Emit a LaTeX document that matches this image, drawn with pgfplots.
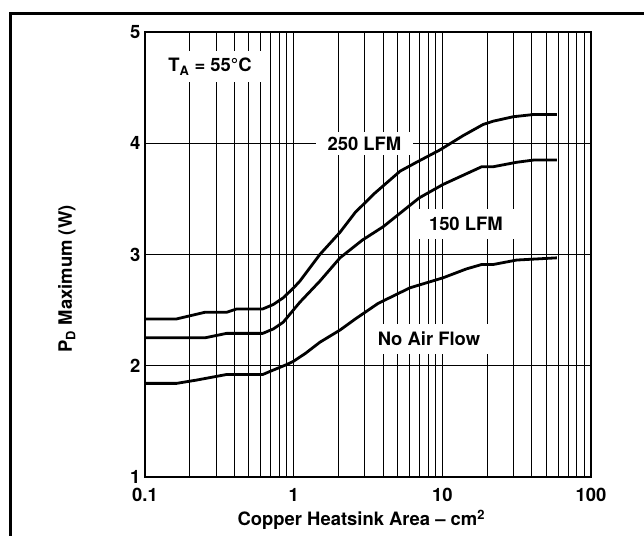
\documentclass[border=0pt]{standalone}
\usepackage{fontspec}
\setmainfont{TeX Gyre Heros}
\usepackage{pgfplots}
\pgfplotsset{compat=1.18}
\newcommand{\fs}{\fontsize{18.5}{21}\selectfont\bfseries}
\begin{document}
\begin{tikzpicture}
\path[use as bounding box] (-145bp,-59.3bp) rectangle (499bp,476.7bp);
\draw[line width=2.7bp] (-134.5bp,-80bp) -- (-134.5bp,463.4bp) -- (520bp,463.4bp);
\begin{axis}[
  at={(0,0)}, anchor=south west,
  scale only axis, width=446bp, height=444.4bp,
  xmode=log, xmin=0.1, xmax=100, ymin=1, ymax=5,
  xtick={0.1,1,10,100}, xticklabels={0.1,1,10,100},
  minor xtick={0.2,0.3,0.4,0.5,0.6,0.7,0.8,0.9,2,3,4,5,6,7,8,9,20,30,40,50,60,70,80,90},
  ytick={1,2,3,4,5}, yticklabels={1,2,3,4,5},
  xmajorgrids, xminorgrids, ymajorgrids,
  major grid style={black, line width=0.85bp},
  minor grid style={black, line width=0.85bp},
  major tick length=0pt, minor tick length=0pt,
  axis line style={line width=1.9bp},
  /pgf/number format/assume math mode=true,
  tick label style={font=\fs},
  xticklabel style={yshift=-8bp},
  yticklabel style={xshift=-1bp},
  xlabel={Copper Heatsink Area -- cm\textsuperscript{2}},
  ylabel={P\textsubscript{D} Maximum (W)},
  label style={font=\fs},
  xlabel style={at={(axis description cs:0.485,-0.097)}, anchor=center},
  ylabel style={at={(axis description cs:-0.175,0.445)}, anchor=center},
  clip=false,
]
\addplot[black, line width=2.8bp, line join=round] coordinates {
(0.1,2.42) (0.163,2.42) (0.253,2.48) (0.354,2.48) (0.414,2.51) (0.62,2.51)
(0.73,2.55) (0.85,2.61) (1.0,2.70) (1.1,2.76) (1.5,3.00) (2.05,3.20)
(2.6,3.38) (3.5,3.55) (5.2,3.75) (6.7,3.83) (9.6,3.94) (13.8,4.07)
(18.8,4.17) (22,4.20) (30,4.24) (41,4.26) (59,4.26)};
\addplot[black, line width=2.8bp, line join=round] coordinates {
(0.1,2.25) (0.253,2.25) (0.354,2.29) (0.62,2.29) (0.73,2.33) (0.85,2.39)
(1.1,2.57) (1.5,2.76) (2.05,2.97) (2.9,3.13) (4.0,3.25) (7.0,3.51)
(10.1,3.63) (18.4,3.79) (22,3.79) (31.6,3.83) (41,3.85) (59,3.85)};
\addplot[black, line width=2.8bp, line join=round] coordinates {
(0.1,1.84) (0.163,1.84) (0.223,1.87) (0.354,1.92) (0.62,1.92) (0.73,1.96)
(0.9,2.01) (1.0,2.04) (1.2,2.11) (1.5,2.21) (2.05,2.32) (2.6,2.42)
(3.7,2.56) (6.05,2.70) (10.1,2.79) (14.5,2.87) (18.4,2.91) (22,2.91)
(31.6,2.95) (59,2.97)};
\node[fill=white, font=\fs, inner xsep=11bp, inner ysep=7bp] at (axis cs:0.2735,4.69) {T\textsubscript{A} = 55°C};
\node[fill=white, font=\fs, inner xsep=12bp, inner ysep=4.5bp] at (axis cs:2.99,4.0) {250 LFM};
\node[fill=white, font=\fs, inner xsep=11bp, inner ysep=8bp] at (axis cs:14.4,3.273) {150 LFM};
\node[fill=white, font=\fs, inner xsep=9bp, inner ysep=8bp] at (axis cs:8.13,2.238) {No Air Flow};
\end{axis}
\end{tikzpicture}
\end{document}
